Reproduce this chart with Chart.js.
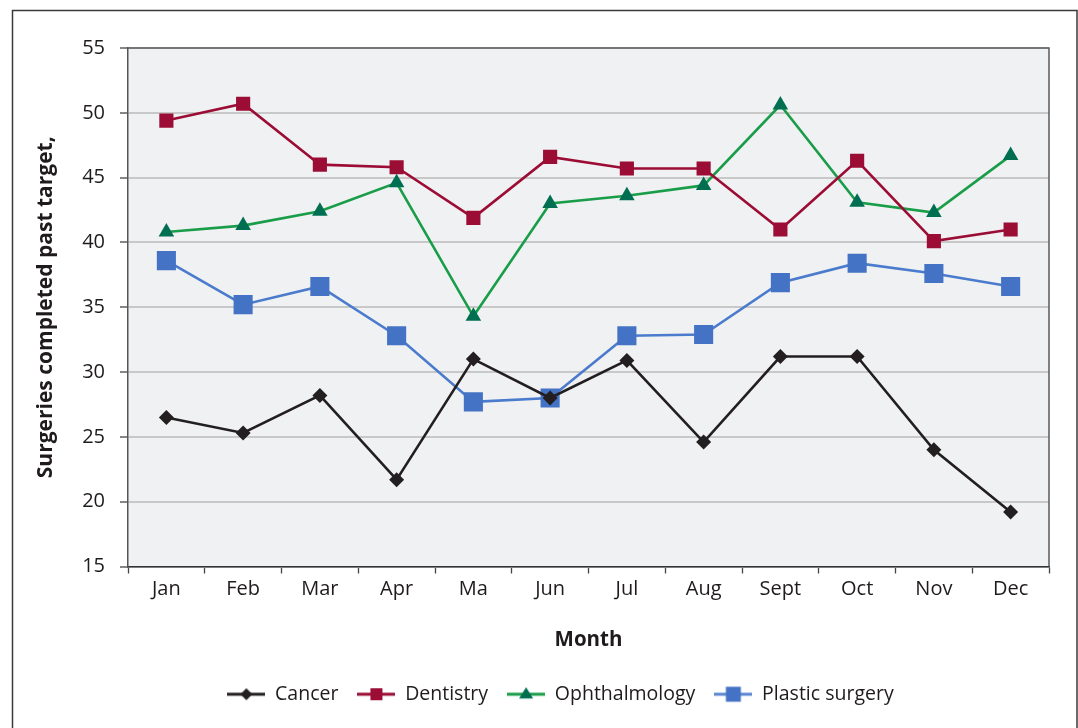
<!DOCTYPE html>
<html>
<head>
<meta charset="utf-8">
<script src="https://cdn.jsdelivr.net/npm/chart.js@4.4.1/dist/chart.umd.min.js"></script>
<style>
  body { margin: 0; background: #fff; }
</style>
</head>
<body>
<canvas id="chart" width="1078" height="728"></canvas>
<script>
const months = ['Jan', 'Feb', 'Mar', 'Apr', 'Ma', 'Jun', 'Jul', 'Aug', 'Sept', 'Oct', 'Nov', 'Dec'];
const cancer = [26.5, 25.3, 28.2, 21.7, 31.0, 28.0, 30.9, 24.6, 31.2, 31.2, 24.0, 19.2];
const dentistry = [49.4, 50.7, 46.0, 45.8, 41.9, 46.6, 45.7, 45.7, 41.0, 46.3, 40.1, 41.0];
const ophthalmology = [40.8, 41.3, 42.4, 44.6, 34.3, 43.0, 43.6, 44.4, 50.6, 43.1, 42.3, 46.7];
const plasticSurgery = [38.6, 35.2, 36.6, 32.8, 27.7, 28.0, 32.8, 32.9, 36.9, 38.4, 37.6, 36.6];
const yTicks = [15, 20, 25, 30, 35, 40, 45, 50, 55];

const FONT = "'Open Sans', 'Noto Sans', sans-serif";
const TXT = '#1f1b1c';

// little line + marker picture for the legend
function legendIcon(lineColor, markColor, shape, size) {
    const c = document.createElement('canvas');
    c.width = 38; c.height = 20;
    const g = c.getContext('2d');
    g.strokeStyle = lineColor;
    g.lineWidth = 3;
    g.beginPath(); g.moveTo(0, 10); g.lineTo(38, 10); g.stroke();
    g.fillStyle = markColor;
    g.beginPath();
    if (shape === 'diamond') {
        g.moveTo(19, 10 - size); g.lineTo(19 + size, 10); g.lineTo(19, 10 + size); g.lineTo(19 - size, 10);
    } else if (shape === 'triangle') {
        g.moveTo(19, 10 - size); g.lineTo(19 + size, 10 + size * 0.6); g.lineTo(19 - size, 10 + size * 0.6);
    } else {
        g.rect(19 - size, 10 - size, size * 2, size * 2);
    }
    g.closePath(); g.fill();
    return c;
}

const icons = [
    legendIcon('#231f20', '#231f20', 'diamond', 6),
    legendIcon('#9b0d35', '#9b0d35', 'rect', 6),
    legendIcon('#1a9d49', '#006f51', 'triangle', 7),
    legendIcon('#5b86cf', '#4472c4', 'rect', 7.5)
];

const frame = {
    id: 'frame',
    afterLayout(chart) {
        // legend sits a bit right of the canvas centre in the original
        chart.legend.left += 72;
    },
    beforeDraw(chart) {
        const { ctx, chartArea: a } = chart;
        ctx.save();
        ctx.fillStyle = '#f0f1f3';
        ctx.fillRect(a.left, a.top, a.right - a.left, a.bottom - a.top);
        ctx.strokeStyle = '#3a3a3a';
        ctx.lineWidth = 1.5;
        ctx.strokeRect(12.5, 10.5, 1064.5, 730);
        ctx.restore();
    },
    beforeDatasetsDraw(chart) {
        const { ctx, chartArea: a } = chart;
        ctx.save();
        ctx.strokeStyle = '#5a5a5a';
        ctx.lineWidth = 1.5;
        ctx.beginPath();
        ctx.moveTo(a.left, a.top);
        ctx.lineTo(a.right, a.top);
        ctx.lineTo(a.right, a.bottom);
        ctx.stroke();
        ctx.restore();
    }
};

const config = {
    type: 'line',
    data: {
        labels: months,
        datasets: [
            {
                label: 'Cancer', data: cancer,
                borderColor: '#231f20', backgroundColor: '#231f20',
                pointStyle: 'rectRot', pointRadius: 7.5
            },
            {
                label: 'Dentistry', data: dentistry,
                borderColor: '#9b0d35', backgroundColor: '#9b0d35',
                pointStyle: 'rect', pointRadius: 10
            },
            {
                label: 'Ophthalmology', data: ophthalmology,
                borderColor: '#1a9d49', backgroundColor: '#006f51',
                pointStyle: 'triangle', pointRadius: 9
            },
            {
                label: 'Plastic surgery', data: plasticSurgery,
                borderColor: '#4a7bcc', backgroundColor: '#4472c4',
                pointStyle: 'rect', pointRadius: 13.5
            }
        ]
    },
    options: {
        responsive: false,
        devicePixelRatio: 1,
        animation: false,
        layout: {
            padding: { top: 48, right: 29, bottom: 14, left: 0 }
        },
        elements: {
            line: { borderWidth: 2.6, tension: 0 },
            point: { borderWidth: 0, hoverRadius: 10 }
        },
        plugins: {
            legend: {
                position: 'bottom',
                labels: {
                    usePointStyle: true,
                    pointStyleWidth: 38,
                    padding: 19,
                    color: TXT,
                    font: { family: FONT, size: 19.5 },
                    generateLabels(chart) {
                        const items = Chart.defaults.plugins.legend.labels.generateLabels(chart);
                        items.forEach((it, i) => { it.pointStyle = icons[i]; });
                        return items;
                    }
                }
            },
            tooltip: { enabled: false }
        },
        scales: {
            x: {
                offset: true,
                grid: {
                    display: true,
                    drawOnChartArea: false,
                    offset: true,
                    tickLength: 7,
                    tickColor: '#444',
                    tickWidth: 1.3
                },
                border: { color: '#333', width: 1.5 },
                ticks: {
                    color: TXT,
                    padding: 4,
                    font: { family: FONT, size: 20 }
                },
                title: {
                    display: true,
                    text: 'Month',
                    color: TXT,
                    font: { family: FONT, size: 20.5, weight: 'bold' },
                    padding: { top: 0, bottom: 13 }
                },
                afterFit(scale) { scale.height = 99; }
            },
            y: {
                min: 15,
                max: 55,
                afterBuildTicks(scale) {
                    scale.ticks = yTicks.map(v => ({ value: v }));
                },
                grid: {
                    color: '#c8c8c8',
                    lineWidth: 2,
                    tickLength: 8,
                    tickColor: '#444',
                    tickWidth: 1.3
                },
                border: { color: '#555', width: 1.5 },
                ticks: {
                    color: TXT,
                    padding: 15,
                    font: { family: FONT, size: 20 }
                },
                title: {
                    display: true,
                    text: 'Surgeries completed past target,',
                    color: TXT,
                    font: { family: FONT, size: 21, weight: 'bold' },
                    padding: { top: 33, bottom: 0 }
                },
                afterFit(scale) { scale.width = 128; }
            }
        }
    },
    plugins: [frame]
};

Chart.defaults.color = TXT;
const chart = new Chart(document.getElementById('chart'), config);
</script>
</body>
</html>
